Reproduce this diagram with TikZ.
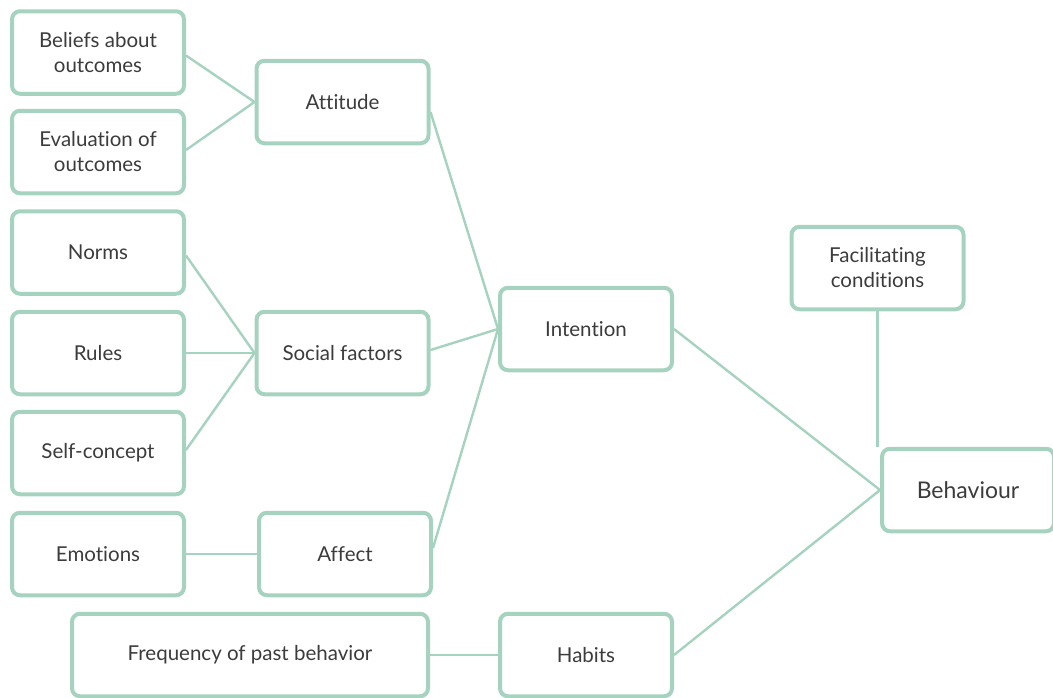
\documentclass[tikz,border=0pt]{standalone}
\usepackage{fontspec}
\setmainfont{Lato}[Ligatures={NoCommon}]
\usetikzlibrary{backgrounds}
\definecolor{boxc}{HTML}{A6D3BF}
\definecolor{txtc}{HTML}{3C3C3C}
\begin{document}
\begin{tikzpicture}[x=1pt,y=-1pt,
  box/.style={draw=boxc, line width=4pt, rounded corners=8pt, fill=white,
    minimum width=172pt, minimum height=82.5pt, inner sep=0pt, align=center,
    text=txtc, font=\fontsize{20.5}{25}\selectfont},
  link/.style={draw=boxc, line width=2.4pt}]
\useasboundingbox (0,0) rectangle (1053,697);
\node[box] (bel) at (98,52.5) {Beliefs about\\outcomes};
\node[box] (eva) at (98,152) {Evaluation of\\outcomes};
\node[box] (nor) at (98,252.5) {Norms};
\node[box] (rul) at (98,353) {Rules};
\node[box] (sel) at (98,453) {Self-concept};
\node[box] (emo) at (98,554) {Emotions};
\node[box] (att) at (342.5,102) {Attitude};
\node[box] (soc) at (342.5,353) {Social factors};
\node[box] (aff) at (345,554) {Affect};
\node[box, minimum width=356pt] (fre) at (250,655) {Frequency of past behavior};
\node[box] (hab) at (586,655) {Habits};
\node[box] (int) at (586,329) {Intention};
\node[box] (fac) at (877.5,268) {Facilitating\\conditions};
\node[box, font=\fontsize{23}{27}\selectfont] (beh) at (968,490) {Behaviour};
\begin{scope}[on background layer]
\draw[link] ([yshift=-3pt]bel.east) -- (att.west);
\draw[link] ([yshift=2pt]eva.east) -- (att.west);
\draw[link] ([yshift=-3pt]nor.east) -- (soc.west);
\draw[link] (rul.east) -- (soc.west);
\draw[link] ([yshift=3pt]sel.east) -- (soc.west);
\draw[link] (emo.east) -- (aff.west);
\draw[link] ([yshift=-10pt]att.east) -- (int.west);
\draw[link] ([yshift=3pt]soc.east) -- (int.west);
\draw[link] ([yshift=6pt]aff.east) -- (int.west);
\draw[link] (fre.east) -- (hab.west);
\draw[link] (int.east) -- (beh.west);
\draw[link] (hab.east) -- (beh.west);
\draw[link] (fac.south) -- (fac.south |- beh.north);
\end{scope}
\end{tikzpicture}
\end{document}
